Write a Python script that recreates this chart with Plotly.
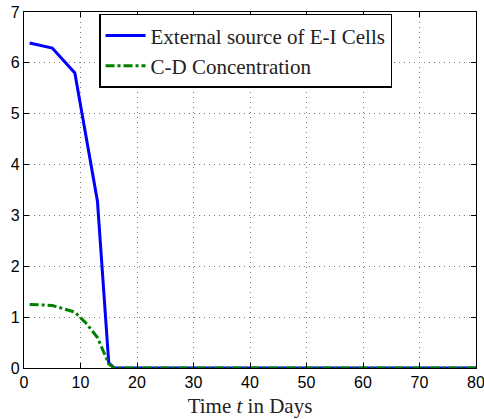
import plotly.graph_objects as go

# Time samples (days) and model outputs
t_cells = [1, 5, 9, 13, 15, 16, 20, 30, 40, 50, 60, 70, 80]
ei_cells = [6.39, 6.29, 5.80, 3.28, 0.10, 0, 0, 0, 0, 0, 0, 0, 0]

t_conc = [1, 5, 9, 11, 13, 15, 16, 20, 30, 40, 50, 60, 70, 80]
cd_conc = [1.25, 1.23, 1.10, 0.88, 0.60, 0.08, 0, 0, 0, 0, 0, 0, 0, 0]

x_ticks = [0, 10, 20, 30, 40, 50, 60, 70, 80]
y_ticks = [0, 1, 2, 3, 4, 5, 6, 7]

SERIF = "Liberation Serif, Times New Roman, serif"

fig = go.Figure()
fig.add_trace(go.Scatter(
    x=t_cells, y=ei_cells, mode="lines",
    name="External source of E-I Cells",
    line=dict(color="#0000ff", width=3),
))
fig.add_trace(go.Scatter(
    x=t_conc, y=cd_conc, mode="lines",
    name="C-D Concentration",
    line=dict(color="#008000", width=3, dash="dashdot"),
))

axis_common = dict(
    showline=True, linecolor="black", linewidth=1.2, mirror="ticks",
    ticks="inside", ticklen=5, tickcolor="black", tickwidth=1,
    showgrid=True, gridcolor="#777777", griddash="1px,4px", gridwidth=1,
    zeroline=False, automargin=False, ticklabeloverflow="allow",
    tickfont=dict(family="Liberation Sans, Arial, sans-serif", size=16, color="black"),
)

fig.update_xaxes(
    range=[0, 80], tickvals=x_ticks,
    title=dict(text="Time <i>t</i> in Days",
               font=dict(family=SERIF, size=21, color="#222222"),
               standoff=8),
    **axis_common,
)
fig.update_yaxes(range=[0, 7], tickvals=y_ticks, **axis_common)

fig.update_layout(
    width=484, height=419,
    margin=dict(l=24, r=8, t=12, b=51),
    plot_bgcolor="white", paper_bgcolor="white",
    legend=dict(
        x=0.166, y=0.995, xanchor="left", yanchor="top",
        bgcolor="white", bordercolor="black", borderwidth=1.5,
        font=dict(family=SERIF, size=21, color="#222222"),
        itemwidth=40, tracegroupgap=0,
    ),
    showlegend=True,
)

fig.write_html("out.html")
